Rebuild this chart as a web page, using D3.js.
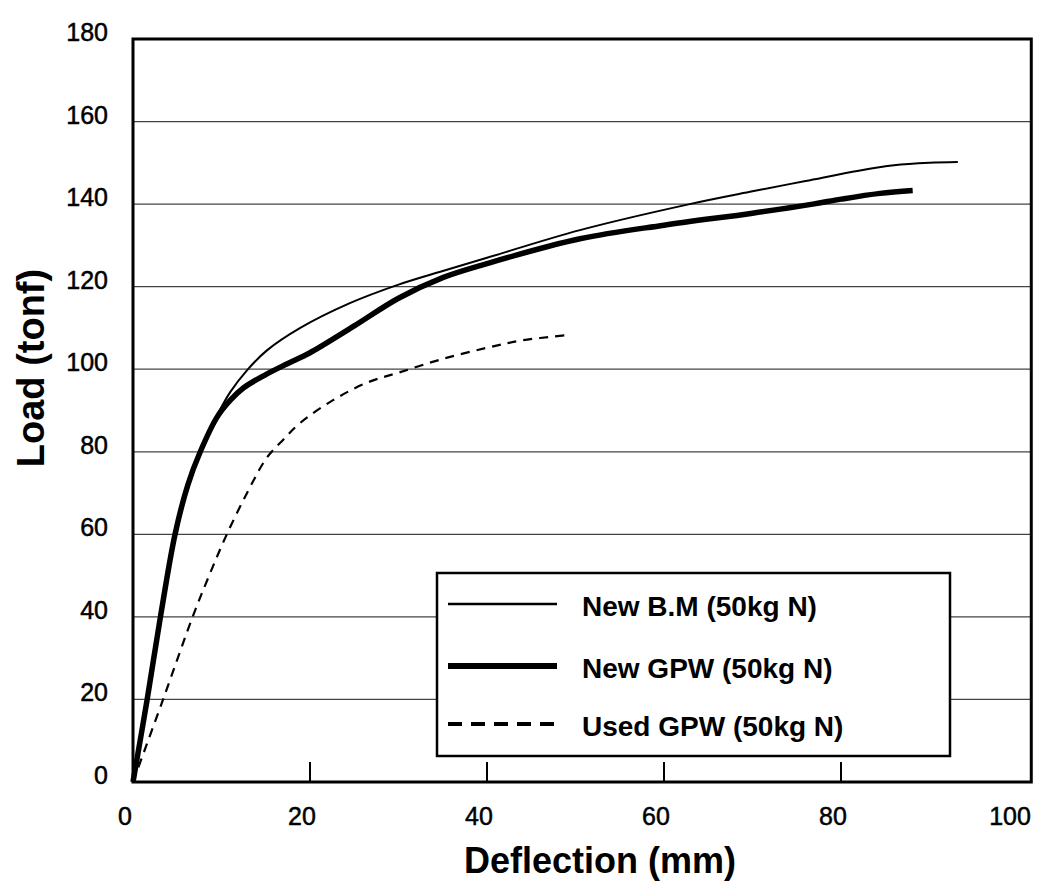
<!DOCTYPE html>
<html>
<head>
<meta charset="utf-8">
<script src="https://cdn.jsdelivr.net/npm/d3@7"></script>
<style>
  html, body { margin: 0; padding: 0; background: #fff; }
  svg { display: block; }
  text { font-family: "Liberation Sans", Arial, Helvetica, sans-serif; fill: #000; }
</style>
</head>
<body>
<svg id="chart" width="1037" height="886"></svg>
<script>
// ---- data ----
const xTicks = [0, 20, 40, 60, 80, 100];
const yTicks = [0, 20, 40, 60, 80, 100, 120, 140, 160, 180];
const seriesNames = ["New B.M (50kg N)", "New GPW (50kg N)", "Used GPW (50kg N)"];
const newBM = [
  [0,0],[1.6,20],[3.1,40],[4.75,60],[6.2,72],[7.6,80],[9.5,88.8],[11,94.5],[12.9,99.8],
  [15.1,104.5],[18.9,110],[24.5,116],[30,120.5],[35,123.8],[40,127],[50.5,133.7],
  [62.9,140],[70,143.1],[76,145.6],[82,148.1],[86,149.4],[90,150],[93.2,150.2]
];
const newGPW = [
  [0,0],[1.6,20],[3.1,40],[4.75,60],[6.2,72],[7.6,80],[9.5,88.4],[11,92.5],
  [12.5,95.5],[15,98.7],[17.5,101.4],[20,104],[25,110.5],[30,117.2],[35,122.2],
  [40,125.6],[50.5,131.6],[60,134.9],[70,137.8],[76.8,140],[80,141.2],[84.4,142.6],[88.1,143.3]
];
const usedGPW = [
  [0,0],[3.4,20],[6.74,40],[8.6,50],[10.6,60],[13,70.5],[15.1,78.5],[17,83],[18.9,87],
  [22.6,92.5],[26.4,96.7],[30.2,99.3],[35,102.5],[40,105.2],[44,107],[48.8,108.2]
];

// ---- layout ----
const svg = d3.select("#chart");
const x = d3.scaleLinear().domain([0, 100]).range([133, 1018]);
const y = d3.scaleLinear().domain([0, 180]).range([782, 39]);
const xRight = x(101.5);

// gridlines
svg.append("g").selectAll("line")
  .data(yTicks.filter(d => d > 0 && d < 180))
  .join("line")
  .attr("x1", x(0)).attr("x2", xRight)
  .attr("y1", d => y(d)).attr("y2", d => y(d))
  .attr("stroke", "#444").attr("stroke-width", 1.2);

// x ticks (inward)
svg.append("g").selectAll("line")
  .data(xTicks.filter(d => d > 0 && d < 100))
  .join("line")
  .attr("x1", d => x(d)).attr("x2", d => x(d))
  .attr("y1", y(0)).attr("y2", y(0) - 20)
  .attr("stroke", "#000").attr("stroke-width", 2);

// tick labels
svg.append("g").selectAll("text")
  .data(yTicks).join("text")
  .attr("x", 108).attr("y", d => y(d) + 2)
  .attr("text-anchor", "end")
  .attr("font-size", 25)
  .attr("stroke", "#000").attr("stroke-width", 0.5)
  .text(d => d);

svg.append("g").selectAll("text")
  .data(xTicks).join("text")
  .attr("x", d => x(d) - 8).attr("y", 825)
  .attr("text-anchor", "middle")
  .attr("font-size", 25)
  .attr("stroke", "#000").attr("stroke-width", 0.5)
  .text(d => d);

// axis titles
svg.append("text")
  .attr("x", 600).attr("y", 873)
  .attr("text-anchor", "middle")
  .attr("font-size", 36).attr("font-weight", "bold")
  .text("Deflection (mm)");
svg.append("text")
  .attr("transform", "translate(44,368) rotate(-90)")
  .attr("text-anchor", "middle")
  .attr("font-size", 38).attr("font-weight", "bold")
  .text("Load (tonf)");

// curves
const line = d3.line().x(d => x(d[0])).y(d => y(d[1])).curve(d3.curveCatmullRom.alpha(0.5));
const styles = [
  { data: newBM, w: 2, dash: null, lw: 2.5 },
  { data: newGPW, w: 5.5, dash: null, lw: 6 },
  { data: usedGPW, w: 2.2, dash: "9,7", lw: 4 }
];
svg.append("g").selectAll("path")
  .data(styles).join("path")
  .attr("d", d => line(d.data))
  .attr("fill", "none").attr("stroke", "#000")
  .attr("stroke-width", d => d.w)
  .attr("stroke-dasharray", d => d.dash)
  .attr("stroke-linecap", "butt").attr("stroke-linejoin", "round");

// frame
svg.append("rect")
  .attr("x", x(0)).attr("y", y(180))
  .attr("width", xRight - x(0)).attr("height", y(0) - y(180))
  .attr("fill", "none").attr("stroke", "#000").attr("stroke-width", 3);

// legend
const lg = svg.append("g");
lg.append("rect")
  .attr("x", 437).attr("y", 573).attr("width", 513).attr("height", 183)
  .attr("fill", "#fff").attr("stroke", "#000").attr("stroke-width", 2.5);
const rowsY = [604, 666, 724];
styles.forEach((s, i) => {
  lg.append("line")
    .attr("x1", 448).attr("x2", 557)
    .attr("y1", rowsY[i]).attr("y2", rowsY[i])
    .attr("stroke", "#000").attr("stroke-width", s.lw)
    .attr("stroke-dasharray", s.dash ? "14,9" : null);
  lg.append("text")
    .attr("x", 582).attr("y", rowsY[i] + 12)
    .attr("font-size", 28).attr("font-weight", "bold")
    .text(seriesNames[i]);
});
</script>
</body>
</html>
